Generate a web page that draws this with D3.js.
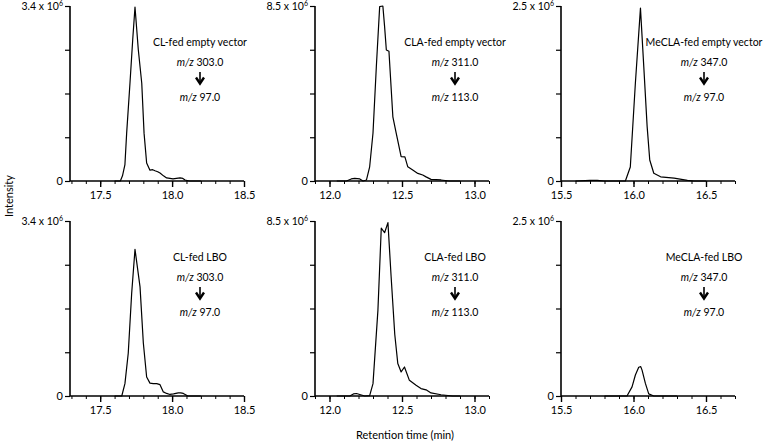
<!DOCTYPE html>
<html>
<head>
<meta charset="utf-8">
<script src="https://cdn.jsdelivr.net/npm/d3@7"></script>
<style>
  html, body { margin: 0; padding: 0; background: #fff; }
  svg { display: block; }
  text { font-family: Lato, "Open Sans", sans-serif; fill: #000; }
</style>
</head>
<body>
<svg id="chart" width="763" height="442"></svg>
<script>
// ---- Data (retention time in min, intensity in units of 1e6) ----
const clEmptyTime = [17.60, 17.64, 17.655, 17.672, 17.684, 17.707, 17.726, 17.742, 17.765, 17.789, 17.805, 17.823, 17.846, 17.865, 17.881, 17.90, 17.916, 17.94, 17.962, 17.985, 18.006, 18.03, 18.055, 18.075, 18.09, 18.12, 18.20];
const clEmptyIntensity = [0, 0, 0.10, 0.32, 0.93, 1.90, 2.74, 3.38, 2.55, 1.90, 0.93, 0.35, 0.21, 0.22, 0.20, 0.18, 0.155, 0.10, 0.06, 0.05, 0.04, 0.05, 0.06, 0.05, 0.02, 0, 0];

const clLboTime = [17.60, 17.65, 17.672, 17.695, 17.719, 17.742, 17.777, 17.80, 17.823, 17.846, 17.869, 17.893, 17.916, 17.939, 17.962, 17.985, 18.01, 18.043, 18.06, 18.078, 18.11, 18.20];
const clLboIntensity = [0, 0, 0.24, 0.83, 2.00, 2.85, 2.12, 1.03, 0.37, 0.25, 0.24, 0.24, 0.22, 0.08, 0.05, 0.03, 0.04, 0.06, 0.06, 0.05, 0, 0];

const claEmptyTime = [12.05, 12.117, 12.15, 12.174, 12.209, 12.231, 12.255, 12.277, 12.30, 12.323, 12.346, 12.368, 12.38, 12.392, 12.41, 12.437, 12.46, 12.494, 12.52, 12.54, 12.574, 12.609, 12.643, 12.666, 12.70, 12.769, 12.826, 12.90];
const claEmptyIntensity = [0, 0, 0.10, 0.13, 0.10, 0, 0.05, 0.69, 2.33, 5.55, 8.47, 8.5, 7.5, 6.36, 6.30, 3.12, 2.32, 1.18, 1.17, 0.69, 0.53, 0.37, 0.29, 0.20, 0.08, 0.05, 0, 0];

const claLboTime = [12.05, 12.14, 12.165, 12.186, 12.22, 12.243, 12.277, 12.30, 12.334, 12.357, 12.38, 12.403, 12.425, 12.45, 12.471, 12.494, 12.517, 12.551, 12.597, 12.631, 12.666, 12.70, 12.769, 12.849, 12.90];
const claLboIntensity = [0, 0, 0.10, 0.12, 0.05, 0, 0.02, 0.60, 4.17, 8.15, 7.93, 8.42, 5.79, 3.0, 1.58, 1.17, 1.41, 0.76, 0.52, 0.36, 0.30, 0.15, 0.06, 0, 0];

const meclaEmptyTime = [15.60, 15.70, 15.75, 15.80, 15.944, 15.978, 16.013, 16.048, 16.071, 16.094, 16.112, 16.14, 16.187, 16.28, 16.372, 16.417, 16.50];
const meclaEmptyIntensity = [0, 0.01, 0.01, 0, 0, 0.20, 1.40, 2.47, 1.63, 0.78, 0.30, 0.11, 0.06, 0.04, 0.01, 0, 0];

const meclaLboTime = [15.80, 15.955, 15.99, 16.013, 16.036, 16.05, 16.059, 16.082, 16.105, 16.14, 16.30];
const meclaLboIntensity = [0, 0, 0.13, 0.30, 0.41, 0.42, 0.37, 0.18, 0.03, 0, 0];

// ---- Axis settings & labels ----
const panelTitles = ["CL-fed empty vector", "CLA-fed empty vector", "MeCLA-fed empty vector",
                     "CL-fed LBO", "CLA-fed LBO", "MeCLA-fed LBO"];
const precursorIons = ["303.0", "311.0", "347.0", "303.0", "311.0", "347.0"];
const productIons = ["97.0", "113.0", "97.0", "97.0", "113.0", "97.0"];
const xDomains = [[17.29, 18.5], [11.9, 13.1], [15.5, 16.7]];
const xMajorTicks = [[17.5, 18.0, 18.5], [12.0, 12.5, 13.0], [15.5, 16.0, 16.5]];
const yMaxValues = [3.4, 8.5, 2.5];
const yMaxLabels = ["3.4", "8.5", "2.5"];
const xAxisTitle = "Retention time (min)";
const yAxisTitle = "Intensity";

const seriesTimes = [clEmptyTime, claEmptyTime, meclaEmptyTime, clLboTime, claLboTime, meclaLboTime];
const seriesValues = [clEmptyIntensity, claEmptyIntensity, meclaEmptyIntensity, clLboIntensity, claLboIntensity, meclaLboIntensity];

// ---- Layout ----
const svg = d3.select("#chart");
const colLeft = [70, 315, 561];
const plotW = 174;
const rowTop = [6, 221];
const plotH = 175;

for (let i = 0; i < 6; i++) {
  const col = i % 3, row = Math.floor(i / 3);
  const g = svg.append("g").attr("transform", `translate(${colLeft[col]},${rowTop[row]})`);
  const x = d3.scaleLinear().domain(xDomains[col]).range([0, plotW]);
  const y = d3.scaleLinear().domain([0, yMaxValues[col]]).range([plotH, 0]);

  // curve
  const pts = seriesTimes[i].map((t, k) => [t, seriesValues[i][k]]);
  g.append("path")
    .datum(pts)
    .attr("fill", "none")
    .attr("stroke", "#000")
    .attr("stroke-width", 1.2)
    .attr("stroke-linejoin", "round")
    .attr("d", d3.line().x(d => x(d[0])).y(d => y(d[1])));

  // x axis: minor ticks
  const [x0, x1] = xDomains[col];
  const minor = d3.range(Math.ceil(x0 * 10 - 1e-6), Math.floor(x1 * 10 + 1e-6) + 1).map(v => v / 10);
  const xAxisG = g.append("g").attr("transform", `translate(0,${plotH})`);
  xAxisG.call(d3.axisBottom(x).tickValues(minor).tickSize(3).tickFormat(""))
    .call(s => s.select(".domain").remove())
    .selectAll("line").attr("stroke", "#000").attr("stroke-width", 1);
  const majG = g.append("g").attr("transform", `translate(0,${plotH})`)
    .call(d3.axisBottom(x).tickValues(xMajorTicks[col]).tickSize(6).tickPadding(4).tickFormat(d3.format(".1f")));
  majG.select(".domain").attr("stroke", "#000").attr("stroke-width", 1.6).attr("d", `M0,0H${plotW}`);
  majG.selectAll("line").attr("stroke", "#000").attr("stroke-width", 1.4);
  majG.selectAll("text").attr("font-size", 11).attr("font-family", "Lato, sans-serif").attr("fill", "#000");

  // y axis
  const yTicks = d3.range(0, 5).map(k => yMaxValues[col] * k / 4);
  const yG = g.append("g")
    .call(d3.axisLeft(y).tickValues(yTicks).tickSize(5).tickPadding(3).tickFormat(""));
  yG.select(".domain").attr("stroke", "#000").attr("stroke-width", 1.6).attr("d", `M0,${plotH}V0`);
  yG.selectAll("line").attr("stroke", "#000").attr("stroke-width", 1.2);

  g.append("text").attr("x", -7).attr("y", y(0)).attr("dy", "0.35em")
    .attr("text-anchor", "end").attr("font-size", 11).text("0");
  const topLab = g.append("text").attr("x", -7).attr("y", y(yMaxValues[col])).attr("dy", "0.4em")
    .attr("text-anchor", "end").attr("font-size", 10.5);
  topLab.append("tspan").text(yMaxLabels[col] + " x 10");
  topLab.append("tspan").attr("font-size", 7).attr("dy", "-0.6em").text("6");

  // annotation
  const cx = x(xDomains[col][0]) + [130, 140, 143][col];
  const ann = g.append("g").attr("font-size", 10.5);
  ann.append("text").attr("x", cx).attr("y", 36).attr("dy", "0.35em").attr("text-anchor", "middle").text(panelTitles[i]);
  const t1 = ann.append("text").attr("x", cx).attr("y", 56.5).attr("dy", "0.35em").attr("text-anchor", "middle");
  t1.append("tspan").attr("font-style", "italic").text("m/z");
  t1.append("tspan").text(" " + precursorIons[i]);
  const t2 = ann.append("text").attr("x", cx).attr("y", 91).attr("dy", "0.35em").attr("text-anchor", "middle");
  t2.append("tspan").attr("font-style", "italic").text("m/z");
  t2.append("tspan").text(" " + productIons[i]);
  // arrow
  ann.append("line").attr("x1", cx).attr("x2", cx).attr("y1", 66).attr("y2", 77.5)
    .attr("stroke", "#000").attr("stroke-width", 1.6);
  ann.append("path").attr("d", `M${cx - 4},${71.5}L${cx},${77.5}L${cx + 4},${71.5}`)
    .attr("fill", "none").attr("stroke", "#000").attr("stroke-width", 2.4).attr("stroke-linejoin", "miter");
}

// axis titles
svg.append("text").attr("x", 405).attr("y", 435).attr("dy", "0.35em")
  .attr("text-anchor", "middle").attr("font-size", 11).text(xAxisTitle);
svg.append("text").attr("transform", "translate(9,196) rotate(-90)").attr("dy", "0.35em")
  .attr("text-anchor", "middle").attr("font-size", 11).text(yAxisTitle);
</script>
</body>
</html>
